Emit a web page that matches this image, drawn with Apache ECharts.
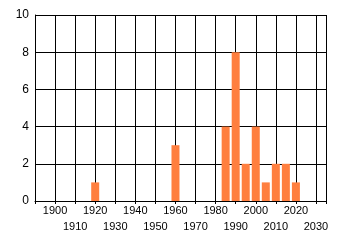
<!DOCTYPE html>
<html>
<head>
<meta charset="utf-8">
<script src="https://cdn.jsdelivr.net/npm/echarts@6/dist/echarts.min.js"></script>
<style>html,body{margin:0;padding:0;background:#fff}#c{width:340px;height:245px}</style>
</head>
<body>
<div id="c"></div>
<script>
var years = [1920, 1960, 1985, 1990, 1995, 2000, 2005, 2010, 2015, 2020];
var counts = [1, 3, 4, 8, 2, 4, 1, 2, 2, 1];
var yTicks = [0, 2, 4, 6, 8, 10];

var chart = echarts.init(document.getElementById('c'), null, {renderer: 'canvas'});
var font = 'Liberation Sans';
chart.setOption({
  animation: false,
  grid: {left: 35, top: 15, width: 291, height: 186},
  xAxis: {
    type: 'value', min: 1890, max: 2035, interval: 10,
    axisLine: {show: true, lineStyle: {color: '#000', width: 1}},
    axisTick: {show: true, length: 3, lineStyle: {color: '#000'}},
    splitLine: {show: true, lineStyle: {color: '#000', width: 1}},
    axisLabel: {
      color: '#000', fontFamily: font, fontSize: 11, margin: 2, lineHeight: 16,
      hideOverlap: false, showMinLabel: true, showMaxLabel: true,
      formatter: function (v) {
        if (v % 10 !== 0 || v < 1900) return '';
        return ((v - 1900) / 10) % 2 === 0 ? String(v) : '\n' + v;
      }
    }
  },
  yAxis: {
    type: 'value', min: yTicks[0], max: yTicks[yTicks.length - 1], interval: 2,
    axisLine: {show: true, lineStyle: {color: '#000', width: 1}},
    axisTick: {show: false},
    splitLine: {show: true, lineStyle: {color: '#000', width: 1}},
    axisLabel: {color: '#000', fontFamily: font, fontSize: 12, margin: 6}
  },
  series: [{
    type: 'bar',
    barWidth: 8,
    itemStyle: {color: '#FF7F3F'},
    data: years.map(function (y, i) { return [y, counts[i]]; })
  }]
});
</script>
</body>
</html>
